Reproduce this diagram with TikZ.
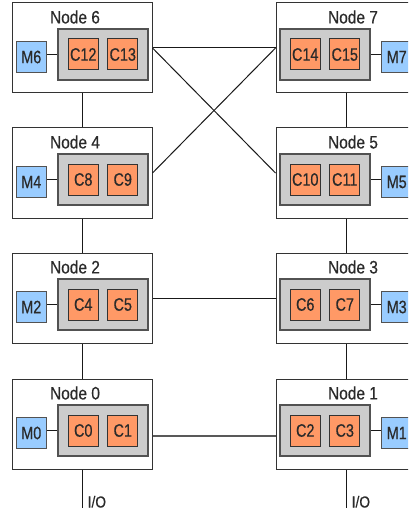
\documentclass[tikz,border=0pt]{standalone}
\usepackage{fontspec}
\newfontfamily\nodefont[FakeStretch=0.86, FakeBold=0.4]{Liberation Sans}
\newfontfamily\partfont[FakeStretch=0.8, FakeBold=0.4]{Liberation Sans}
\usepackage{xcolor}
\usetikzlibrary{positioning}

\definecolor{textgray}{HTML}{2A2A2A}
\definecolor{memblue}{HTML}{99CCFF}
\definecolor{coreorange}{HTML}{FF9966}
\definecolor{chipgray}{HTML}{CCCCCC}
\definecolor{edgegray}{HTML}{333333}

\tikzset{
	board/.style={draw=edgegray, line width=1pt, fill=white, minimum width=140pt, minimum height=90pt, inner sep=0pt},
	chip/.style={draw=edgegray!85, fill=chipgray, line width=1.3pt, minimum width=90pt, minimum height=51pt, inner sep=0pt},
	core/.style={draw=edgegray, fill=coreorange, line width=1pt, minimum width=30pt, minimum height=31pt, inner sep=0pt, text=textgray, font=\partfont\fontsize{18}{20}\selectfont},
	mem/.style={draw=edgegray!85, fill=memblue, line width=1pt, minimum width=30pt, minimum height=31pt, inner sep=0pt, text=textgray, font=\partfont\fontsize{18}{20}\selectfont},
	title/.style={text=textgray, inner sep=0pt, font=\nodefont\fontsize{18}{20}\selectfont},
	iolabel/.style={text=textgray, inner sep=0pt, font=\nodefont\fontsize{16}{18}\selectfont},
	link/.style={draw=black!90, line width=1pt},
	bus/.style={draw=black!65, line width=1.4pt}
}

\begin{document}
\begin{tikzpicture}[x=1pt, y=-1pt]
		\clip (0,0) rectangle (408,513);

		% nodes: number / x / y / side
		\foreach \n/\x/\y/\s in {0/82/424/1, 1/346/424/-1, 2/82/298/1, 3/346/298/-1,
				4/82/173/1, 5/346/173/-1, 6/82/48/1, 7/346/48/-1}{
			\pgfmathtruncatemacro{\ca}{2*\n}
			\pgfmathtruncatemacro{\cb}{2*\n+1}
			\node[board] (n\n) at (\x,\y) {};
			\node[title] (t\n) at ([shift={(\s*-7,-31)}]n\n.center) {Node \n};
			\draw[link] ([shift={(\s*21,6.5)}]n\n.center) -- ([shift={(\s*-50.7,6.5)}]n\n.center);
			\node[chip] (g\n) at ([shift={(\s*21,6.5)}]n\n.center) {};
			\node[core] (c\ca) at ([xshift=-19.75pt]g\n.center) {C\ca};
			\node[core] (c\cb) at ([xshift=19.75pt]g\n.center) {C\cb};
			\node[mem] (m\n) at ([shift={(\s*-50.7,9)}]n\n.center) {M\n};
		}

		% links between the boards
		\draw[link] (n0.north) -- (n2.south);
		\draw[link] (n2.north) -- (n4.south);
		\draw[link] (n4.north) -- (n6.south);
		\draw[link] (n1.north) -- (n3.south);
		\draw[link] (n3.north) -- (n5.south);
		\draw[link] (n5.north) -- (n7.south);
		\draw[link] (n6.east) -- (n7.west);
		\draw[link] (n6.east) -- (n5.west);
		\draw[link] (n4.east) -- (n7.west);
		\draw[link] (n2.east) -- (n3.west);
		\draw[bus] ([yshift=-12pt]n0.east) -- ([yshift=-12pt]n1.west);

		% I/O
		\coordinate (io0) at ([yshift=-38pt]n0.south);
		\coordinate (io1) at ([yshift=-38pt]n1.south);
		\draw[link] (n0.south) -- (io0);
		\draw[link] (n1.south) -- (io1);
		\node[iolabel, anchor=base west] (l0) at ([xshift=5.5pt]io0) {I/O};
		\node[iolabel, anchor=base west] (l1) at ([xshift=5.5pt]io1) {I/O};
	\end{tikzpicture}
\end{document}
